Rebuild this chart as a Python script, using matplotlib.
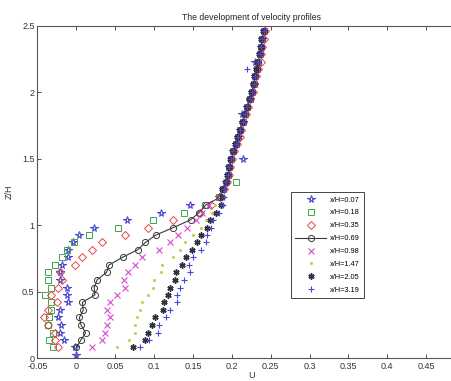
import matplotlib
matplotlib.use("Agg")
import matplotlib.pyplot as plt
import numpy as np

plt.rcParams['font.family'] = ['Liberation Sans', 'DejaVu Sans']

# vertical positions (Z/H)
z_star_extra = [0.02]
z_levels = [0.08, 0.135, 0.19, 0.25, 0.305, 0.36, 0.42, 0.475, 0.53, 0.59, 0.645,
            0.70, 0.76, 0.815, 0.87, 0.925, 0.98, 1.04, 1.095, 1.155, 1.21,
            1.27, 1.325, 1.38, 1.44, 1.495, 1.555, 1.61, 1.665, 1.72, 1.78, 1.835,
            1.89, 1.95, 2.005, 2.06, 2.12, 2.175, 2.23, 2.29, 2.345, 2.40, 2.46]

u_007 = [0.000,
         -0.002, -0.016, -0.021, -0.020, -0.024, -0.021, -0.010, -0.012, -0.012, -0.021, -0.021,
         -0.019, -0.010, -0.010, -0.004, 0.003, 0.023, 0.065, 0.109, 0.146, 0.183,
         0.189, 0.193, 0.195, 0.197, 0.215, 0.202, 0.205, 0.208, 0.211, 0.214, 0.213,
         0.220, 0.223, 0.226, 0.228, 0.230, 0.232, 0.230, 0.236, 0.238, 0.239, 0.242]
u_018 = [-0.030, -0.035, -0.030, -0.036, -0.035, -0.033, -0.032, -0.040, -0.032, -0.036, -0.036,
         -0.028, -0.018, -0.012, -0.003, 0.016, 0.054, 0.099, 0.139, 0.166, 0.184,
         0.189, 0.206, 0.195, 0.197, 0.199, 0.202, 0.205, 0.208, 0.211, 0.214, 0.217,
         0.220, 0.223, 0.226, 0.228, 0.230, 0.232, 0.234, 0.236, 0.238, 0.239, 0.241]
u_035 = [-0.024, -0.028, -0.027, -0.037, -0.042, -0.037, -0.025, -0.032, -0.024, -0.019, -0.021,
         -0.002, 0.008, 0.020, 0.033, 0.063, 0.092, 0.124, 0.159, 0.173, 0.185,
         0.190, 0.194, 0.196, 0.198, 0.200, 0.203, 0.207, 0.210, 0.212, 0.215, 0.218,
         0.221, 0.224, 0.227, 0.229, 0.231, 0.234, 0.237, 0.238, 0.239, 0.241, 0.243]
u_069 = [0.000, 0.006, 0.012, 0.006, 0.004, 0.009, 0.008, 0.024, 0.023, 0.027, 0.039,
         0.042, 0.060, 0.079, 0.089, 0.102, 0.124, 0.147, 0.158, 0.167, 0.185,
         0.189, 0.193, 0.195, 0.197, 0.199, 0.202, 0.205, 0.208, 0.211, 0.214, 0.217,
         0.220, 0.223, 0.226, 0.228, 0.230, 0.232, 0.234, 0.236, 0.238, 0.239, 0.241]
u_098 = [0.020, 0.033, 0.037, 0.040, 0.043, 0.040, 0.043, 0.052, 0.063, 0.061, 0.067,
         0.076, 0.085, 0.106, 0.120, 0.131, 0.142, 0.154, 0.162, 0.171, 0.184,
         0.189, 0.193, 0.195, 0.197, 0.199, 0.202, 0.205, 0.208, 0.211, 0.214, 0.217,
         0.220, 0.223, 0.226, 0.228, 0.230, 0.232, 0.234, 0.236, 0.238, 0.239, 0.241]
u_147 = [0.052, 0.068, 0.075, 0.076, 0.078, 0.082, 0.084, 0.092, 0.099, 0.100, 0.109,
         0.110, 0.124, 0.133, 0.140, 0.150, 0.160, 0.167, 0.174, 0.178, 0.185,
         0.189, 0.193, 0.195, 0.197, 0.199, 0.202, 0.205, 0.208, 0.211, 0.214, 0.217,
         0.220, 0.223, 0.226, 0.228, 0.230, 0.232, 0.234, 0.236, 0.238, 0.239, 0.241]
u_205 = [0.073, 0.088, 0.092, 0.098, 0.101, 0.111, 0.113, 0.118, 0.121, 0.127, 0.128,
         0.136, 0.141, 0.149, 0.155, 0.161, 0.168, 0.172, 0.180, 0.186, 0.187,
         0.188, 0.192, 0.194, 0.196, 0.198, 0.201, 0.204, 0.207, 0.210, 0.213, 0.216,
         0.219, 0.222, 0.225, 0.227, 0.229, 0.231, 0.233, 0.235, 0.237, 0.238, 0.240]
u_319 = [0.082, 0.093, 0.105, 0.106, 0.116, 0.121, 0.129, 0.129, 0.133, 0.138, 0.146,
         0.145, 0.150, 0.161, 0.167, 0.168, 0.173, 0.176, 0.183, 0.189, 0.190,
         0.190, 0.193, 0.195, 0.197, 0.199, 0.202, 0.205, 0.208, 0.211, 0.214, 0.217,
         0.220, 0.223, 0.226, 0.228, 0.230, 0.220, 0.234, 0.236, 0.238, 0.239, 0.242]

labels = ['x/H=0.07', 'x/H=0.18', 'x/H=0.35', 'x/H=0.69',
          'x/H=0.98', 'x/H=1.47', 'x/H=2.05', 'x/H=3.19']

xticks = [-0.05, 0, 0.05, 0.1, 0.15, 0.2, 0.25, 0.3, 0.35, 0.4, 0.45]
xticklabels = ['-0.05', '0', '0.05', '0.1', '0.15', '0.2', '0.25', '0.3', '0.35', '0.4', '0.45']
yticks = [0, 0.5, 1, 1.5, 2, 2.5]
yticklabels = ['0', '0.5', '1', '1.5', '2', '2.5']

fig = plt.figure(figsize=(4.51, 3.81), dpi=100)
W, H = 451, 381
ax = fig.add_axes([37.4 / W, 1 - 358 / H, (465 - 37.4) / W, (358 - 26) / H])

ms = 4.4
ax.plot(u_007, z_star_extra + z_levels, linestyle='none', marker='*', ms=ms + 0.9,
        mfc='none', mec='#4a4ad0', mew=0.8, label=labels[0])
ax.plot(u_018, z_levels, linestyle='none', marker='s', ms=ms,
        mfc='none', mec='#3fa64a', mew=0.7, label=labels[1])
ax.plot(u_035, z_levels, linestyle='none', marker='D', ms=ms - 0.2,
        mfc='none', mec='#e04848', mew=0.7, label=labels[2])
ax.plot(u_069, z_levels, linestyle='-', color='#3a3a3a', lw=0.8, marker='o', ms=ms,
        mfc='none', mec='#3a3a3a', mew=0.7, label=labels[3])
ax.plot(u_098, z_levels, linestyle='none', marker='x', ms=ms - 0.6,
        mfc='none', mec='#d848d0', mew=0.8, label=labels[4])
ax.plot(u_147, z_levels, linestyle='none', marker='.', ms=2.5,
        mfc='#c8cc58', mec='#c8cc58', label=labels[5])
ax.plot(u_205, z_levels, linestyle='none', marker=(6, 2, 0), ms=ms,
        mfc='#303040', mec='#303040', mew=1.1, label=labels[6])
ax.plot(u_319, z_levels, linestyle='none', marker='+', ms=ms + 0.6,
        mfc='none', mec='#4848d8', mew=0.8, label=labels[7])

ax.set_xlim(-0.05, 0.5)
ax.set_ylim(0, 2.5)
ax.set_xticks(xticks)
ax.set_xticklabels(xticklabels)
ax.set_yticks(yticks)
ax.set_yticklabels(yticklabels)
ax.tick_params(direction='in', top=True, right=True, length=3, width=0.6,
               labelsize=6.5, colors='#333333', pad=2)
ax.tick_params(axis='x', pad=3)
for s in ax.spines.values():
    s.set_color('#555555')
    s.set_linewidth(0.8)

ax.set_title('The development of velocity profiles', fontsize=6.2, color='#222222', pad=4)
ax.set_xlabel('U', fontsize=6.5, color='#333333', labelpad=0)
ax.set_ylabel('Z/H', fontsize=6.5, color='#333333', labelpad=6)

leg = ax.legend(loc='upper left', bbox_to_anchor=(291 / W, 1 - 192 / H),
                bbox_transform=fig.transFigure, fontsize=5.3, frameon=True,
                fancybox=False, framealpha=1, edgecolor='#444444',
                handlelength=4.2, handletextpad=0.5, labelspacing=0.78,
                borderpad=0.6, borderaxespad=0)
leg.get_frame().set_linewidth(0.7)

fig.savefig('out.png', dpi=100)
